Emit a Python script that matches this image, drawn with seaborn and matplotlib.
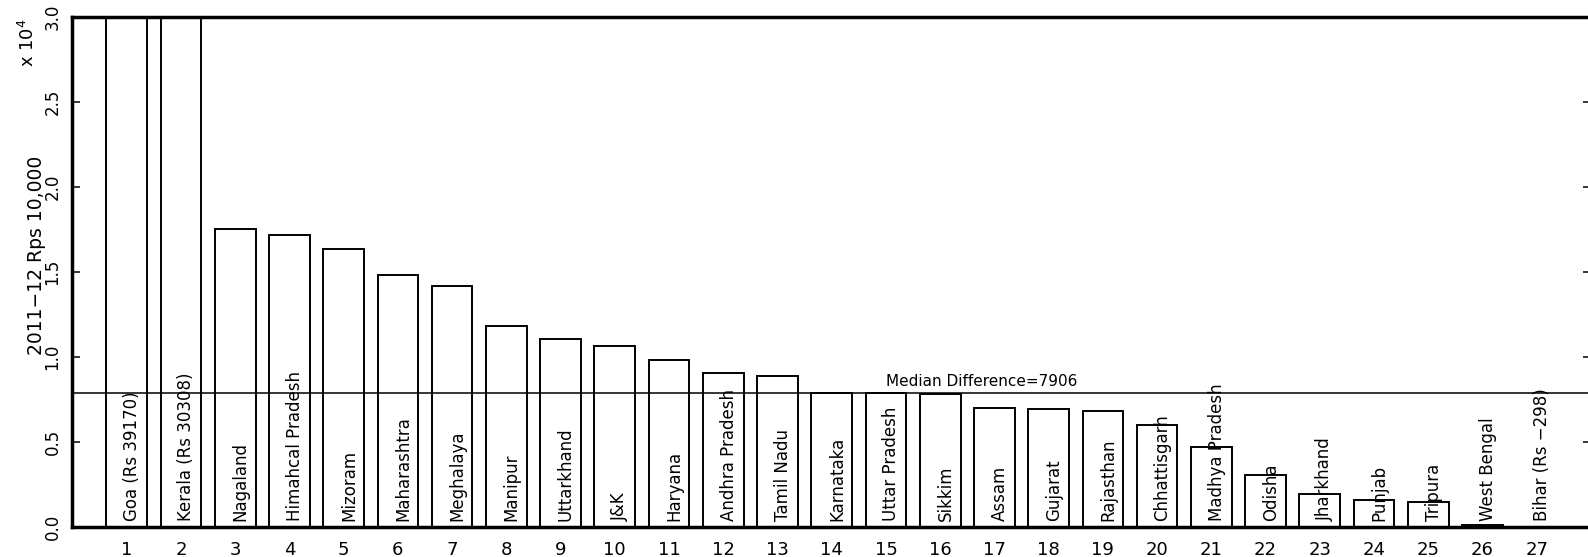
import numpy as np
import pandas as pd
import matplotlib
matplotlib.use("Agg")
import matplotlib.pyplot as plt
import seaborn as sns

# Per-capita income difference by state (2011-12 rupees), ranked
ranks = list(range(1, 28))
state_labels = [
    "Goa (Rs 39170)", "Kerala (Rs 30308)", "Nagaland", "Himahcal Pradesh",
    "Mizoram", "Maharashtra", "Meghalaya", "Manipur", "Uttarkhand", "J&K",
    "Haryana", "Andhra Pradesh", "Tamil Nadu", "Karnataka", "Uttar Pradesh",
    "Sikkim", "Assam", "Gujarat", "Rajasthan", "Chhattisgarh",
    "Madhya Pradesh", "Odisha", "Jharkhand", "Punjab", "Tripura",
    "West Bengal", "Bihar (Rs \u2212298)",
]
differences = [
    39170, 30308, 17500, 17150, 16360, 14810, 14160, 11850, 11080, 10630,
    9810, 9080, 8860, 7906, 7880, 7840, 7020, 6960, 6820, 6020,
    4700, 3030, 1950, 1610, 1460, 120, -298,
]
ytick_values = [0, 5000, 10000, 15000, 20000, 25000, 30000]
ytick_labels = ["0.0", "0.5", "1.0", "1.5", "2.0", "2.5", "3.0"]

df = pd.DataFrame({"rank": ranks, "diff": differences, "state": state_labels})
median_diff = int(np.median(df["diff"]))

sns.set_theme(style="white")
plt.rcParams["font.family"] = ["DejaVu Sans"]

fig = plt.figure(figsize=(15.88, 5.57), dpi=100)
ax = fig.add_axes([0.04565, 0.05386, 0.9562, 0.91562])

sns.barplot(
    data=df, x="rank", y="diff", native_scale=True, width=0.75,
    color="white", saturation=1, edgecolor="black", linewidth=1.4, ax=ax,
)

# Median reference line with its label
ax.axhline(median_diff, color="black", linewidth=1.1, zorder=3)
ax.text(15, median_diff + 370, f"Median Difference={median_diff}",
        ha="left", va="baseline", fontsize=11, color="black")

# State names written up inside each bar
for r, name in zip(df["rank"], df["state"]):
    ax.text(r + 0.1, 350, name, rotation=90, ha="center", va="bottom",
            fontsize=12, color="black", zorder=4)

ax.set_xlim(0, 28)
ax.set_ylim(0, 30000)
ax.set_xticks(ranks)
ax.set_xticklabels([str(r) for r in ranks], fontsize=13)
ax.set_yticks(ytick_values)
ax.set_yticklabels(ytick_labels, rotation=90, va="center", fontsize=12)
ax.set_xlabel("")
ax.set_ylabel("")

ax.tick_params(axis="x", length=0, pad=10, colors="black")
ax.tick_params(axis="y", left=True, right=True, direction="in", length=6,
               width=1.1, pad=8, colors="black")

for side in ("left", "top", "bottom"):
    ax.spines[side].set_visible(True)
    ax.spines[side].set_color("black")
    ax.spines[side].set_linewidth(2.5)
ax.spines["right"].set_visible(False)

fig.text(37 / 1588, 1 - 255 / 557, "2011\u221212 Rps 10,000", rotation=90,
         ha="center", va="center", fontsize=13.5, color="black")
fig.text(28 / 1588, 1 - 18 / 557, "x 10$^{4}$", rotation=90,
         ha="center", va="top", fontsize=13, color="black")

fig.savefig("out.png", dpi=100, facecolor="white")
